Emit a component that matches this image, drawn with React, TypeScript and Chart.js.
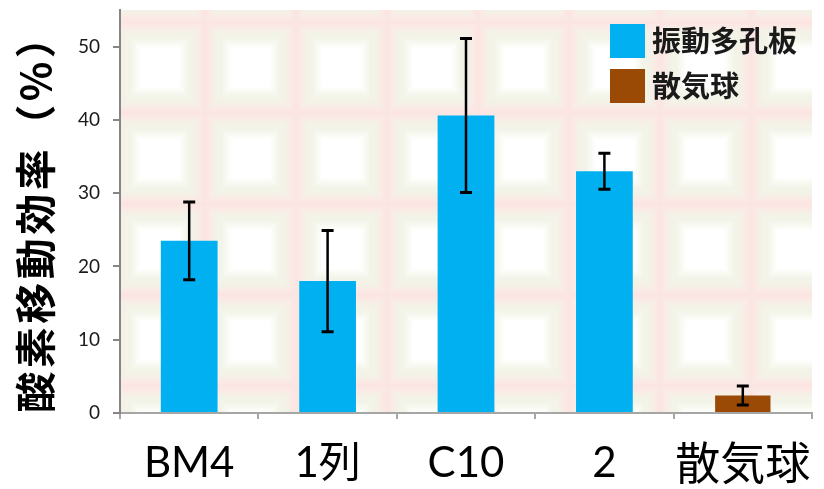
import React, { useEffect, useRef } from "react";
import { Chart, registerables } from "chart.js";

Chart.register(...registerables);

const categories = ["BM4", "1列", "C10", "2", "散気球"];
const seriesNames = ["振動多孔板", "散気球"];
const plateValues = [23.5, 18.0, 40.6, 33.0, null];
const plateErrors = [5.3, 6.9, 10.5, 2.45, null];
const diffuserValues = [null, null, null, null, 2.4];
const diffuserErrors = [null, null, null, null, 1.3];
const yTicks = [0, 10, 20, 30, 40, 50];
const yTitle = "酸素移動効率（%）";

const BLUE = "#00B0F0";
const BROWN = "#9A4A04";

function makeTile(): HTMLCanvasElement {
  const T = 91;
  const c = document.createElement("canvas");
  c.width = T;
  c.height = T;
  const g = c.getContext("2d")!;
  const stops: [number, number[]][] = [
    [0, [251, 229, 227]],
    [4, [251, 232, 228]],
    [7, [247, 237, 230]],
    [11, [243, 242, 231]],
    [17, [243, 244, 233]],
    [21, [247, 249, 241]],
    [25, [252, 253, 250]],
    [26, [255, 255, 255]],
  ];
  const colorAt = (d: number) => {
    if (d >= 26) return [255, 255, 255];
    for (let i = 0; i < stops.length - 1; i++) {
      const [d0, c0] = stops[i];
      const [d1, c1] = stops[i + 1];
      if (d >= d0 && d <= d1) {
        const t = (d - d0) / (d1 - d0);
        return c0.map((v, k) => Math.round(v + (c1[k] - v) * t));
      }
    }
    return [255, 255, 255];
  };
  const img = g.createImageData(T, T);
  for (let y = 0; y < T; y++) {
    for (let x = 0; x < T; x++) {
      const dx = Math.min(x + 0.5, T - x - 0.5);
      const dy = Math.min(y + 0.5, T - y - 0.5);
      const d = Math.min(dx, dy);
      const col = colorAt(d);
      const i = (y * T + x) * 4;
      img.data[i] = col[0];
      img.data[i + 1] = col[1];
      img.data[i + 2] = col[2];
      img.data[i + 3] = 255;
    }
  }
  g.putImageData(img, 0, 0);
  return c;
}

const backgroundPlugin = {
  id: "bgPattern",
  beforeDraw(chart: any) {
    const { ctx, chartArea } = chart;
    const pat = ctx.createPattern(makeTile(), "repeat");
    const ox = 23;
    const oy = 22;
    ctx.save();
    ctx.translate(ox, oy);
    ctx.fillStyle = pat;
    ctx.fillRect(chartArea.left - ox, chartArea.top - oy, chartArea.right - chartArea.left, chartArea.bottom - chartArea.top);
    ctx.restore();
  },
};

const errorBarPlugin = {
  id: "errorBars",
  afterDatasetsDraw(chart: any) {
    const { ctx } = chart;
    const yScale = chart.scales.y;
    const errs = [plateErrors, diffuserErrors];
    chart.data.datasets.forEach((ds: any, di: number) => {
      const meta = chart.getDatasetMeta(di);
      meta.data.forEach((bar: any, i: number) => {
        const v = ds.data[i];
        const e = errs[di][i];
        if (v == null || e == null) return;
        const x = bar.x;
        const yt = yScale.getPixelForValue(v + e);
        const yb = yScale.getPixelForValue(v - e);
        ctx.save();
        ctx.strokeStyle = "#000";
        ctx.lineWidth = 2.5;
        ctx.beginPath();
        ctx.moveTo(x, yt);
        ctx.lineTo(x, yb);
        ctx.stroke();
        ctx.lineWidth = 3;
        ctx.beginPath();
        ctx.moveTo(x - 6, yt);
        ctx.lineTo(x + 6, yt);
        ctx.moveTo(x - 6, yb);
        ctx.lineTo(x + 6, yb);
        ctx.stroke();
        ctx.restore();
      });
    });
  },
};

const legendPlugin = {
  id: "customLegend",
  afterDraw(chart: any) {
    const { ctx } = chart;
    const colors = [BLUE, BROWN];
    ctx.save();
    ctx.font = "bold 29px 'Noto Sans CJK JP'";
    ctx.textBaseline = "middle";
    ctx.textAlign = "left";
    seriesNames.forEach((name, i) => {
      const y = 24 + i * 45;
      ctx.fillStyle = colors[i];
      ctx.fillRect(610, y, 35, 34);
      ctx.fillStyle = "#1a1a1a";
      ctx.fillText(name, 652, y + 17);
    });
    ctx.restore();

    // y-axis title
    ctx.save();
    ctx.font = "bold 41px 'Noto Sans CJK JP'";
    (ctx as any).letterSpacing = "3.5px";
    ctx.fillStyle = "#000";
    ctx.textAlign = "center";
    ctx.textBaseline = "middle";
    ctx.translate(35, 215);
    ctx.rotate(-Math.PI / 2);
    ctx.fillText(yTitle, 1.75, 0);
    ctx.restore();
  },
};

export default function App() {
  const ref = useRef<HTMLCanvasElement>(null);
  useEffect(() => {
    const chart = new Chart(ref.current!, {
      type: "bar",
      data: {
        labels: categories,
        datasets: [
          {
            label: seriesNames[0],
            data: plateValues,
            backgroundColor: BLUE,
            grouped: false,
            barPercentage: 0.41,
            categoryPercentage: 1,
          } as any,
          {
            label: seriesNames[1],
            data: diffuserValues,
            backgroundColor: BROWN,
            grouped: false,
            barPercentage: 0.4,
            categoryPercentage: 1,
          } as any,
        ],
      },
      options: {
        responsive: false,
        animation: false,
        layout: { padding: { top: 10, right: 12, left: 0, bottom: 0 } },
        plugins: { legend: { display: false }, tooltip: { enabled: false } },
        scales: {
          x: {
            grid: { drawOnChartArea: false, drawTicks: true, tickLength: 6, color: "#A6A6A6", lineWidth: 2, offset: true },
            border: { color: "#A6A6A6", width: 2 },
            ticks: {
              color: "#000",
              font: (c: any) => ({ family: "Lato, 'Noto Sans CJK JP'", size: c.index === 4 ? 45 : 42 }),
              padding: 19,
              maxRotation: 0,
              autoSkip: false,
            },
            afterFit: (s: any) => { s.height = 76; s.paddingLeft = 0; s.paddingRight = 0; },
          },
          y: {
            min: 0,
            max: 55,
            afterBuildTicks: (s: any) => { s.ticks = yTicks.map((v) => ({ value: v })); },
            grid: { drawOnChartArea: false, drawTicks: true, tickLength: 7, color: "#868686", lineWidth: 2 },
            border: { color: "#868686", width: 2 },
            ticks: { color: "#1a1a1a", font: { family: "Lato", size: 19 }, padding: 13 },
            afterFit: (s: any) => { s.width = 120; s.paddingTop = 0; s.paddingBottom = 0; },
          },
        },
      },
      plugins: [backgroundPlugin, errorBarPlugin, legendPlugin],
    });
    return () => chart.destroy();
  }, []);
  return (
    <div style={{ position: "fixed", left: 0, top: 0, width: 824, height: 489, background: "#fff" }}>
      <canvas ref={ref} width={824} height={489} style={{ width: 824, height: 489, display: "block" }} />
    </div>
  );
}
